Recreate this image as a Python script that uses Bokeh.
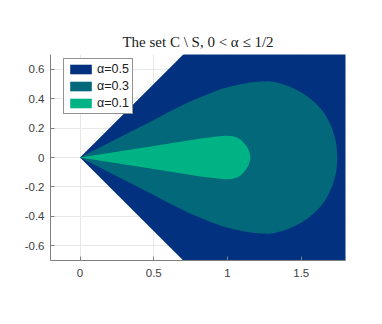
from bokeh.plotting import figure
from bokeh.models import FixedTicker, Range1d, Legend
from bokeh.embed import file_html
from bokeh.resources import INLINE

# alpha = 0.5 region: wedge |arg z| < pi/4 (upper edge, mirrored)
wedge_x = [0.0, 2.0]
wedge_y = [0.0, 2.0]

# alpha = 0.3 region: upper boundary (mirrored for lower)
teal_x = [0.0, 0.3, 0.5, 0.615, 0.75, 0.885, 0.96, 1.02, 1.09, 1.155, 1.223, 1.28,
          1.32, 1.37, 1.42, 1.46, 1.51, 1.55, 1.59, 1.628, 1.66, 1.685, 1.71, 1.725,
          1.736, 1.741, 1.744]
teal_y = [0.0, 0.153, 0.255, 0.316, 0.382, 0.439, 0.465, 0.483, 0.498, 0.509, 0.516, 0.518,
          0.513, 0.500, 0.482, 0.463, 0.436, 0.409, 0.376, 0.337, 0.295, 0.249, 0.195, 0.146,
          0.100, 0.060, 0.0]

# alpha = 0.1 region: upper boundary (mirrored for lower)
green_x = [0.0, 0.5, 0.818, 0.9, 0.95, 0.986, 1.03, 1.065, 1.09, 1.11, 1.128, 1.14,
           1.148, 1.153, 1.155]
green_y = [0.0, 0.079, 0.129, 0.140, 0.145, 0.147, 0.146, 0.136, 0.120, 0.100, 0.078, 0.058,
           0.038, 0.018, 0.0]

labels = ["\u03b1=0.5", "\u03b1=0.3", "\u03b1=0.1"]
colors = ["#02327F", "#03687A", "#00B384"]

x_ticks = [0, 0.5, 1, 1.5]
x_tick_labels = ["0", "0.5", "1", "1.5"]
y_ticks = [-0.6, -0.4, -0.2, 0, 0.2, 0.4, 0.6]
y_tick_labels = ["-0.6", "-0.4", "-0.2", "0", "0.2", "0.4", "0.6"]


def closed(ux, uy):
    xs = list(ux) + list(reversed(ux))
    ys = list(uy) + [-v for v in reversed(uy)]
    return xs, ys


p = figure(width=374, height=316, output_backend="svg", toolbar_location=None,
           x_range=Range1d(-0.2, 1.8), y_range=Range1d(-0.7, 0.7),
           title="The set C \\ S, 0 < \u03b1 \u2264 1/2")
p.min_border_left = 50
p.min_border_right = 29
p.min_border_top = 54
p.min_border_bottom = 56
p.outline_line_color = None
p.background_fill_color = "white"
p.border_fill_color = "white"

p.title.align = "center"
p.title.text_font = "Liberation Serif"
p.title.text_font_style = "normal"
p.title.text_font_size = "15px"
p.title.text_color = "#202020"
p.title.offset = 0

renderers = []
for (ux, uy), col in zip([(wedge_x, wedge_y), (teal_x, teal_y), (green_x, green_y)], colors):
    xs, ys = closed(ux, uy)
    r = p.patch(xs, ys, fill_color=col, line_color=None)
    renderers.append(r)

p.xaxis.ticker = FixedTicker(ticks=x_ticks)
p.yaxis.ticker = FixedTicker(ticks=y_ticks)
p.xaxis.major_label_overrides = {t: l for t, l in zip(x_ticks, x_tick_labels)}
p.yaxis.major_label_overrides = {t: l for t, l in zip(y_ticks, y_tick_labels)}
for ax in (p.xaxis, p.yaxis):
    ax.major_tick_in = 4
    ax.major_tick_out = 0
    ax.minor_tick_in = 0
    ax.minor_tick_out = 0
    ax.axis_line_color = "#808080"
    ax.major_tick_line_color = "#808080"
    ax.major_label_text_font = "Liberation Sans"
    ax.major_label_text_font_size = "11.5px"
    ax.major_label_text_color = "#404040"
p.xaxis.major_label_standoff = 8
p.yaxis.major_label_standoff = 6

p.xgrid.ticker = FixedTicker(ticks=x_ticks)
p.ygrid.ticker = FixedTicker(ticks=y_ticks)
p.grid.grid_line_color = "#e8e8e8"

legend = Legend(items=[(lab, [r]) for lab, r in zip(labels, renderers)],
                location=(13, 146))
legend.border_line_color = "#262626"
legend.border_line_width = 1
legend.background_fill_color = "white"
legend.background_fill_alpha = 1
legend.padding = 3
legend.spacing = 3
legend.margin = 0
legend.glyph_width = 27
legend.glyph_height = 12
legend.label_height = 12
legend.label_standoff = 3
legend.label_text_font = "Liberation Sans"
legend.label_text_font_size = "12.5px"
legend.label_text_color = "#202020"
p.add_layout(legend, "center")

open("out.html", "w").write(file_html(p, INLINE))
